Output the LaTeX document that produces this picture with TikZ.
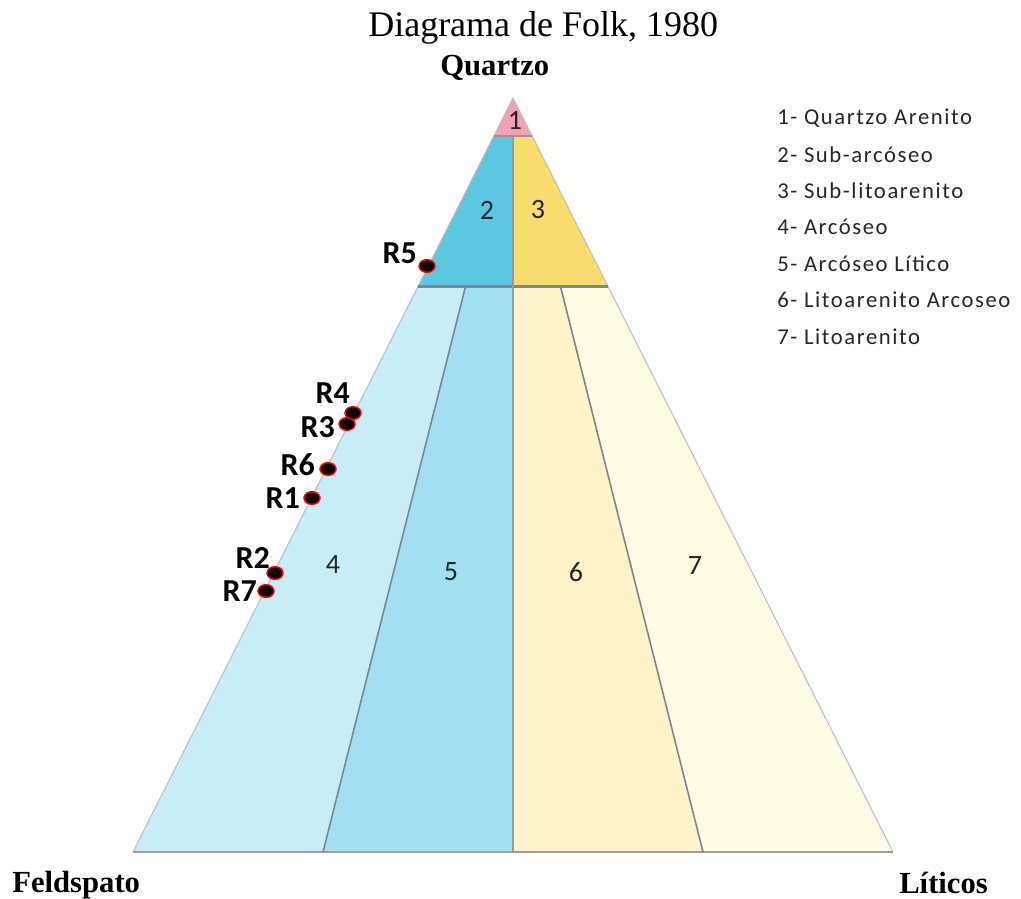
\documentclass[tikz,border=0pt]{standalone}
\usepackage{fontspec}
\setmainfont{Liberation Serif}
\newfontfamily\calfont{Carlito}
\newfontfamily\legfont[LetterSpace=7]{Carlito}
\usetikzlibrary{calc,shapes.geometric}
\definecolor{zoneQa}{HTML}{F2A2B4}
\definecolor{zoneSa}{HTML}{5CC7E1}
\definecolor{zoneSl}{HTML}{F9DC6E}
\definecolor{zoneAr}{HTML}{C9EDF6}
\definecolor{zoneAl}{HTML}{A2E0F1}
\definecolor{zoneLa}{HTML}{FDF2C8}
\definecolor{zoneLi}{HTML}{FFFBE4}
\definecolor{lineg}{HTML}{768A90}

\begin{document}
\begin{tikzpicture}[x=0.75pt, y=-0.75pt,
  edge/.style={draw=gray!50, line width=0.8pt},
  divide/.style={draw=lineg, line width=1.2pt},
  corner/.style={font=\fontsize{23}{26}\selectfont\bfseries, inner sep=0pt},
  num/.style={font=\calfont\fontsize{21}{23}\selectfont, text=black!85, inner sep=0pt},
  sample/.style={ellipse, draw=red, fill=black, line width=1.1pt, minimum width=12pt, minimum height=9.5pt, inner sep=0pt},
  rlab/.style={font=\calfont\bfseries\fontsize{24}{26}\selectfont, inner sep=0pt, anchor=base east},
  leg/.style={font=\legfont\fontsize{17}{19}\selectfont, inner sep=0pt, anchor=west, text=black!85}
]
\useasboundingbox (0,0) rectangle (1021,899);

% corners of the triangle
\coordinate (Q) at (513,98);
\coordinate (F) at (133,852);
\coordinate (L) at (893,852);

% Q95 and Q75 lines
\coordinate (q95F) at ($(Q)!0.05!(F)$);
\coordinate (q95L) at ($(Q)!0.05!(L)$);
\coordinate (q75F) at ($(Q)!0.25!(F)$);
\coordinate (q75L) at ($(Q)!0.25!(L)$);
\coordinate (m95) at ($(q95F)!0.5!(q95L)$);
\coordinate (m75) at ($(q75F)!0.5!(q75L)$);
\coordinate (t1) at ($(q75F)!0.25!(q75L)$);
\coordinate (t3) at ($(q75F)!0.75!(q75L)$);
\coordinate (b1) at ($(F)!0.25!(L)$);
\coordinate (bm) at ($(F)!0.5!(L)$);
\coordinate (b3) at ($(F)!0.75!(L)$);

% fields
\fill[zoneQa] (Q) -- (q95F) -- (q95L) -- cycle;
\fill[zoneSa] (q95F) -- (m95) -- (m75) -- (q75F) -- cycle;
\fill[zoneSl] (m95) -- (q95L) -- (q75L) -- (m75) -- cycle;
\fill[zoneAr] (q75F) -- (t1) -- (b1) -- (F) -- cycle;
\fill[zoneAl] (t1) -- (m75) -- (bm) -- (b1) -- cycle;
\fill[zoneLa] (m75) -- (t3) -- (b3) -- (bm) -- cycle;
\fill[zoneLi] (t3) -- (q75L) -- (L) -- (b3) -- cycle;

% borders
\draw[edge] (F) -- (Q) -- (L);
\draw[divide, draw=gray!75, line width=1.6pt] (F) -- (L);
\draw[draw=gray!60!zoneQa, line width=1.8pt] (q95F) -- (q95L);
\draw[divide, line width=2.2pt] (q75F) -- (q75L);
\draw[divide, draw=gray!80] (m95) -- (bm);
\draw[divide] (t1) -- (b1);
\draw[divide] (t3) -- (b3);

% field numbers
\node[num] (n1) at (515,120) {1};
\node[num] (n2) at (487,210) {2};
\node[num] (n3) at (538,210) {3};
\node[num] (n4) at (333,565) {4};
\node[num] (n5) at (451,572) {5};
\node[num] (n6) at (576,572) {6};
\node[num] (n7) at (695,566) {7};

% poles and title
\node[font=\fontsize{27}{30}\selectfont, inner sep=0pt, anchor=base west] (title) at (368,37) {Diagrama de Folk, 1980};
\node[corner, anchor=base west] (quartzo) at (440,76) {Quartzo};
\node[corner, anchor=base west] (feld) at (12,892) {Feldspato};
\node[corner, anchor=base west] (lit) at (899,893) {Líticos};

% samples
\node[sample] (d5) at (427,266) {};
\node[sample] (d4) at (353,413) {};
\node[sample] (d3) at (347,424) {};
\node[sample] (d6) at (328,469) {};
\node[sample] (d1) at (312,498) {};
\node[sample] (d2) at (275,573) {};
\node[sample] (d7) at (266,591) {};
\node[rlab] (r5) at (417,263) {R5};
\node[rlab] (r4) at (350,403) {R4};
\node[rlab] (r3) at (335,437) {R3};
\node[rlab] (r6) at (315,475) {R6};
\node[rlab] (r1) at (300,508) {R1};
\node[rlab] (r2) at (270,568) {R2};
\node[rlab] (r7) at (257,601) {R7};

% legend
\foreach \t [count=\i] in {Quartzo Arenito, Sub-arcóseo, Sub-litoarenito, Arcóseo, Arcóseo Lítico, Litoarenito Arcoseo, Litoarenito}
  \node[leg] (leg\i) at ({777},{118+36.4*(\i-1)}) {\i- \t};
\end{tikzpicture}
\end{document}
